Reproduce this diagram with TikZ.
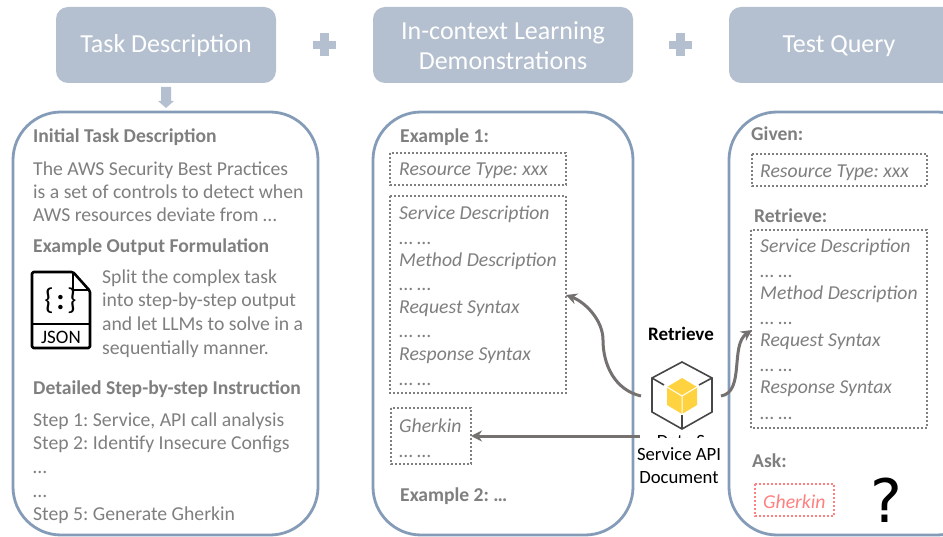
\documentclass[tikz,border=0pt]{standalone}
\usepackage{fontspec}
\setmainfont{Carlito}
\newfontfamily\qfont{DejaVu Sans}
\frenchspacing
\usetikzlibrary{arrows.meta}
\definecolor{hdr}{HTML}{B4C0CF}
\definecolor{pan}{HTML}{859CB8}
\definecolor{txt}{HTML}{7F7F7F}
\definecolor{arr}{HTML}{767171}
\definecolor{red1}{HTML}{FF8080}
\definecolor{cub}{HTML}{FFD33F}
\tikzset{x=1pt,y=-1pt,
 hbox/.style={fill=hdr,draw=none,rounded corners=12pt},
 htext/.style={text=white,font=\frenchspacing\fontsize{26}{30}\selectfont,align=center,anchor=center},
 panel/.style={draw=pan,line width=2.8pt,fill=white,rounded corners=48pt},
 tl/.style={text=txt,anchor=base west,inner sep=0pt,yshift=-7pt,font=\frenchspacing\fontsize{19.7}{23}\selectfont},
 bl/.style={tl,font=\frenchspacing\fontsize{19.6}{23}\selectfont\bfseries},
 il/.style={tl,font=\frenchspacing\fontsize{19.7}{23}\selectfont\itshape},
 dbox/.style={draw=txt,line width=2pt,dash pattern=on 2pt off 2pt},
 conn/.style={draw=arr,line width=3pt,-{Stealth[length=11pt,width=11pt]}},
 blk/.style={text=black,anchor=base,inner sep=0pt,font=\fontsize{18.7}{23}\selectfont}
}
\begin{document}
\begin{tikzpicture}
\useasboundingbox (0,0) rectangle (943,537);
\clip (0,0) rectangle (943,537);
% headers
\fill[hbox] (56,7) rectangle (276,83);
\fill[hbox] (373,7) rectangle (633,83);
\fill[hbox] (729,7) rectangle (975,83);
\node[htext] (h1) at (166,46) {Task Description};
\node[htext] (h2) at (503,46) {In-context Learning\\Demonstrations};
\node[htext] (h3) at (839,46) {Test Query};
% plus
\fill[hdr] (320,33) rectangle (329,56);
\fill[hdr] (313,41) rectangle (336,49);
\fill[hdr] (676,33) rectangle (685,56);
\fill[hdr] (669,41) rectangle (692,49);
% down arrow
\fill[hdr] (161,87) -- (171,87) -- (171,101) -- (174,101) -- (166,108) -- (158,101) -- (161,101) -- cycle;
% panels
\draw[panel] (13,112) rectangle (318,535);
\draw[panel] (373,112) rectangle (633,535);
\draw[panel] (729,112) rectangle (985,535);
% left panel
\node[bl] (a1) at (33,136) {Initial Task Description};
\node[tl] (a2) at (33,169) {The AWS Security Best Practices};
\node[tl] (a3) at (33,192) {is a set of controls to detect when};
\node[tl] (a4) at (33,215) {AWS resources deviate from …};
\node[bl] (a5) at (33,246) {Example Output Formulation};
\node[tl] (a6) at (102,277) {Split the complex task};
\node[tl] (a7) at (102,300) {into step-by-step output};
\node[tl] (a8) at (102,324) {and let LLMs to solve in a};
\node[tl] (a9) at (102,348) {sequentially manner.};
\node[bl] (a10) at (33,388) {Detailed Step-by-step Instruction};
\node[tl] (a11) at (33,419) {Step 1: Service, API call analysis};
\node[tl] (a12) at (33,442) {Step 2: Identify Insecure Configs};
\node[tl] (a13) at (33,466) {…};
\node[tl] (a14) at (33,490) {…};
\node[tl] (a15) at (33,513) {Step 5: Generate Gherkin};
% JSON icon
\begin{scope}[line width=2.6pt,draw=black,line join=round]
\draw[rounded corners=1.5pt] (32,272) -- (73,272) -- (90,291) -- (90,348) -- (32,348) -- cycle;
\draw (73,272) -- (73,290) -- (90,290);
\draw (32,324) -- (90,324);
\end{scope}
\node[text=black,inner sep=0pt,font=\fontsize{30}{30}\selectfont] (j1) at (60.5,301) {\{\kern2.5pt\textbf{:}\kern2.5pt\}};
\node[text=black,inner sep=0pt,font=\fontsize{19}{20}\selectfont] (j2) at (61,337) {JSON};
% middle panel
\node[bl] (b1) at (400,136) {Example 1:};
\draw[dbox] (390,153) rectangle (566,185);
\node[il] (b2) at (399,169) {Resource Type: xxx};
\draw[dbox] (390,196) rectangle (566,393);
\coordinate (sbox) at (566,295);
\node[il] (b3) at (399,213) {Service Description};
\node[tl] (b4) at (399,238) {… …};
\node[il] (b5) at (399,260) {Method Description};
\node[tl] (b6) at (399,284) {… …};
\node[il] (b7) at (399,307) {Request Syntax};
\node[tl] (b8) at (399,331) {… …};
\node[il] (b9) at (399,354) {Response Syntax};
\node[tl] (b10) at (399,379) {… …};
\draw[dbox] (391,408) rectangle (471,464);
\coordinate (gbox) at (471,436);
\node[il] (b11) at (399,425) {Gherkin};
\node[tl] (b12) at (399,450) {… …};
\node[bl] (b13) at (400,494) {Example 2: …};
% right panel
\node[bl] (c1) at (751,134) {Given:};
\draw[dbox] (752,154) rectangle (927,186);
\node[il] (c2) at (760,171) {Resource Type: xxx};
\node[bl] (c3) at (754,216) {Retrieve:};
\draw[dbox] (751,230) rectangle (927,428);
\coordinate (rbox) at (752,330);
\node[il] (c4) at (760,246) {Service Description};
\node[tl] (c5) at (760,271) {… …};
\node[il] (c6) at (760,293) {Method Description};
\node[tl] (c7) at (760,318) {… …};
\node[il] (c8) at (760,340) {Request Syntax};
\node[tl] (c9) at (760,365) {… …};
\node[il] (c10) at (760,387) {Response Syntax};
\node[tl] (c11) at (760,412) {… …};
\node[bl] (c12) at (752,460) {Ask:};
\draw[draw=red1,line width=2pt,dash pattern=on 2pt off 2pt] (755,484) rectangle (834,516);
\node[il,text=red1] (c13) at (763,501) {Gherkin};
\node[text=black,inner sep=0pt,font=\qfont\fontsize{60}{60}\selectfont] (q) at (886,500) {?};
% centre
\node[blk,font=\fontsize{19}{23}\selectfont\bfseries] (ret) at (681,341) {Retrieve};
% cube
\begin{scope}[line width=1.6pt,draw=black!72]
\draw (682,362) -- (712,378) -- (712,412) -- (682,429) -- (652,412) -- (652,378) -- cycle;
\draw (652,378) -- (664,385);
\draw (712,378) -- (699,385);
\draw (682,415) -- (682,429);
\end{scope}
\fill[cub] (682,378) -- (697,387) -- (697,405) -- (682,414) -- (667,405) -- (667,387) -- cycle;
\draw[white,line width=1pt] (667,387) -- (682,396) -- (697,387) (682,396) -- (682,414);
\begin{scope}
\clip (630,430) rectangle (730,437);
\node[blk] (ds) at (681,447) {Data S};
\end{scope}
\node[blk] (d1) at (679,460) {Service API};
\node[blk] (d2) at (679,483) {Document};
% connectors
\coordinate (s1) at (641,396);
\coordinate (s2) at (721,396);
\coordinate (s3) at (640,436);
\draw[conn] (s1) .. controls (615,390) and (603,365) .. (603,340) .. controls (603,320) and (585,302) .. (sbox);
\draw[conn] (s2) .. controls (745,392) and (730,345) .. (rbox);
\draw[conn] (s3) -- (gbox);
\end{tikzpicture}
\end{document}
